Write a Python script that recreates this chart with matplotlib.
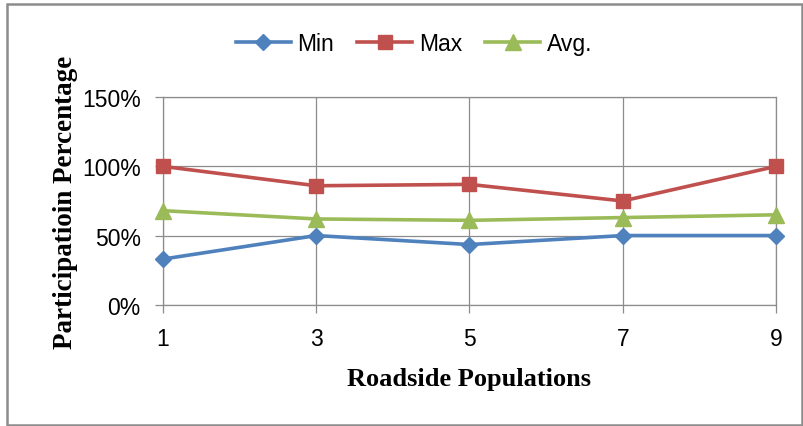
import matplotlib.pyplot as plt
from matplotlib.patches import Rectangle
from matplotlib.ticker import PercentFormatter

# values (percent)
populations = [1, 3, 5, 7, 9]
min_vals = [33, 50, 43.5, 50, 50]
max_vals = [100, 86, 87, 75, 100]
avg_vals = [68, 62, 61, 63, 65]

fig = plt.figure(figsize=(8.04, 4.27), dpi=100)
ax = fig.add_axes([0.2027, 0.284, 0.7625, 0.486])

tick_font = 'Liberation Sans'
label_font = 'Liberation Serif'

ax.plot(populations, min_vals, label='Min', color='#4F81BD', linewidth=2.6,
        marker='D', markersize=8.5, zorder=3, clip_on=False)
ax.plot(populations, max_vals, label='Max', color='#C0504D', linewidth=2.6,
        marker='s', markersize=10, zorder=3, clip_on=False)
ax.plot(populations, avg_vals, label='Avg.', color='#9BBB59', linewidth=2.6,
        marker='^', markersize=11, zorder=3, clip_on=False)

ax.set_xlim(1, 9)
ax.set_ylim(0, 150)
ax.set_xticks(populations)
ax.set_yticks([0, 50, 100, 150])
ax.yaxis.set_major_formatter(PercentFormatter(decimals=0))
ax.grid(True, color='#8c8c8c', linewidth=0.9)
ax.set_axisbelow(True)
for s in ax.spines.values():
    s.set_color('#8c8c8c')
    s.set_linewidth(0.9)
ax.tick_params(axis='both', length=6, width=0.9, color='#8c8c8c', pad=10,
               labelsize=16.5)
for lab in ax.get_xticklabels() + ax.get_yticklabels():
    lab.set_fontfamily(tick_font)

ax.set_xlabel('Roadside Populations', fontsize=19, fontweight='bold',
              fontfamily=label_font, labelpad=12)
ax.set_ylabel('Participatioin Percentage', fontsize=19.5, fontweight='bold',
              fontfamily=label_font, labelpad=3)

fig.legend(loc='center', bbox_to_anchor=(0.515, 0.895), ncol=3, frameon=False,
           prop={'family': tick_font, 'size': 16.5}, handlelength=2.4,
           handletextpad=0.3, columnspacing=1.0)

# outer frame of the chart
fig.patches.append(Rectangle((7 / 804, 1.5 / 427), 795 / 804, 421 / 427,
                             transform=fig.transFigure, fill=False,
                             edgecolor='#8c8c8c', linewidth=1.8))

fig.savefig('out.png', dpi=100)
